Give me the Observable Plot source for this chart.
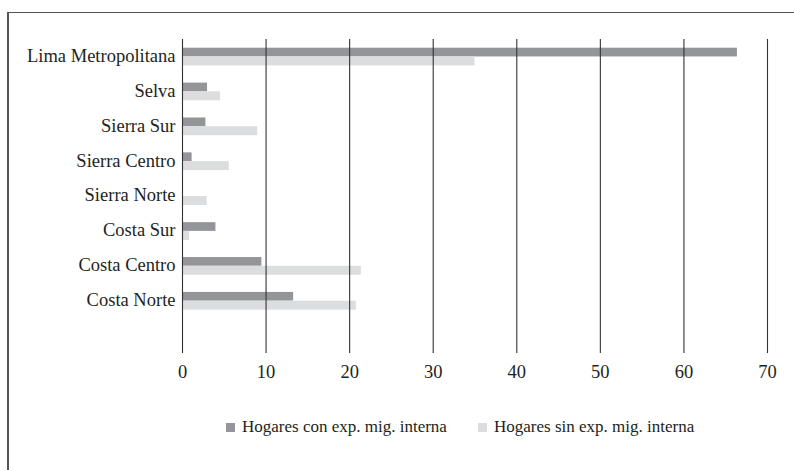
<!DOCTYPE html>
<html>
<head>
<meta charset="utf-8">
<script src="https://cdn.jsdelivr.net/npm/d3@7"></script>
<script src="https://cdn.jsdelivr.net/npm/@observablehq/plot@0.6"></script>
<style>
  html, body { margin: 0; padding: 0; background: #fff; }
  #wrap { position: relative; width: 794px; height: 470px; overflow: hidden; font-family: "Liberation Serif", serif; color: #231f20; }
  #frame { position: absolute; left: 7px; top: 12px; right: -10px; bottom: -10px; border-top: 1.5px solid #555; border-left: 2px solid #555; }
  #chart { position: absolute; left: 0; top: 0; }
  #legend { position: absolute; top: 415px; left: 0; width: 794px; height: 24px; font-size: 17px; }
  .item { position: absolute; top: 0; display: flex; align-items: center; white-space: nowrap; line-height: 24px; }
  .sw { width: 9px; height: 9px; margin-right: 7px; display: inline-block; }
</style>
</head>
<body>
<div id="wrap">
  <div id="frame"></div>
  <div id="chart"></div>
  <div id="legend"></div>
</div>
<script>
const regions = ["Lima Metropolitana", "Selva", "Sierra Sur", "Sierra Centro", "Sierra Norte", "Costa Sur", "Costa Centro", "Costa Norte"];
const conExp = [66.4, 3.0, 2.8, 1.15, 0, 4.0, 9.5, 13.3];
const sinExp = [35.0, 4.55, 9.0, 5.6, 2.95, 0.85, 21.4, 20.8];
const seriesNames = ["Hogares con exp. mig. interna", "Hogares sin exp. mig. interna"];
const seriesColors = ["#939598", "#dcdddf"];
const xTicks = [0, 10, 20, 30, 40, 50, 60, 70];

const blank = " ";
const yDomain = [...regions, blank];
const conData = regions.map((r, i) => ({region: r, value: conExp[i]}));
const sinData = regions.map((r, i) => ({region: r, value: sinExp[i]}));

const plot = Plot.plot({
  width: 794,
  height: 400,
  marginLeft: 182,
  marginRight: 27,
  marginTop: 39,
  marginBottom: 47,
  style: {fontFamily: "Liberation Serif, serif", fontSize: "18.5px", color: "#231f20", background: "transparent"},
  x: {domain: [0, 70], ticks: xTicks, label: null},
  y: {domain: yDomain, padding: 0, round: false, label: null},
  marks: [
    Plot.barX(conData, {x: "value", y: "region", fill: seriesColors[0], insetTop: 8.7, insetBottom: 17.45}),
    Plot.barX(sinData, {x: "value", y: "region", fill: seriesColors[1], insetTop: 17.45, insetBottom: 8.45}),
    Plot.ruleX(xTicks, {stroke: "#333", strokeWidth: 1.1}),
    Plot.axisX({ticks: xTicks, tickSize: 0, tickPadding: 11, fontSize: 18.5, label: null}),
    Plot.axisY({tickSize: 0, tickPadding: 7, fontSize: 18.5, dy: -1, label: null, tickFormat: d => d === blank ? "" : d})
  ]
});
document.getElementById("chart").appendChild(plot);

const legend = document.getElementById("legend");
const lefts = [226, 478];
seriesNames.forEach((name, i) => {
  const it = document.createElement("div");
  it.className = "item";
  it.style.left = lefts[i] + "px";
  const sw = document.createElement("span");
  sw.className = "sw";
  sw.style.background = seriesColors[i];
  it.appendChild(sw);
  it.appendChild(document.createTextNode(name));
  legend.appendChild(it);
});
</script>
</body>
</html>
